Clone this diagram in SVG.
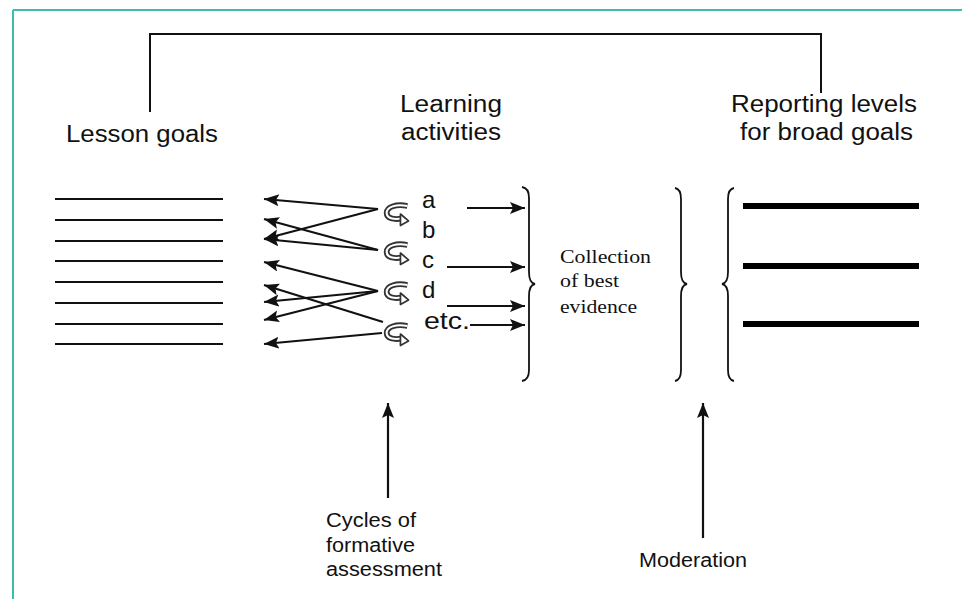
<svg xmlns="http://www.w3.org/2000/svg" width="962" height="599" viewBox="0 0 962 599">
<style>
.ln{stroke:#111;stroke-width:2;fill:none}
.ar{stroke:#111;stroke-width:2.2;fill:none;marker-end:url(#ah)}
.goal{stroke:#111;stroke-width:2}
.lvl{stroke:#000;stroke-width:6}
.br{stroke:#111;stroke-width:1.8;fill:none}
.sans{font-family:"Liberation Sans",Arial,sans-serif;fill:#111}
.serif{font-family:"Liberation Serif","Times New Roman",serif;fill:#111}
</style>
<defs>
<marker id="ah" markerUnits="userSpaceOnUse" markerWidth="16" markerHeight="14" refX="15" refY="6" orient="auto">
<path d="M0,0 L15,6 L0,12 L3,6 Z" fill="#111"/>
</marker>
<g id="curl">
<path d="M9,-7 C-1,-9 -9,-6 -9,-1 C-9,4 -3,5 4,4" fill="none" stroke="#333" stroke-width="5"/>
<path d="M9,-7 C-1,-9 -9,-6 -9,-1 C-9,4 -3,5 4,4" fill="none" stroke="#fff" stroke-width="1.8"/>
<path d="M3,0 L10,6 L3,10 Z" fill="#fff" stroke="#333" stroke-width="1.5" stroke-linejoin="round"/>
</g>
</defs>
<rect width="962" height="599" fill="#fff"/>
<g id="frame">
<line x1="13" y1="10" x2="962" y2="10" stroke="#3dbdb0" stroke-width="2"/>
<line x1="13" y1="10" x2="13" y2="599" stroke="#3dbdb0" stroke-width="2"/>
</g>
<g id="lesson-goals">
<text class="sans" x="66" y="142" font-size="23" textLength="152" lengthAdjust="spacingAndGlyphs">Lesson goals</text>
<line class="goal" x1="55" y1="199" x2="223" y2="199"/>
<line class="goal" x1="55" y1="220" x2="223" y2="220"/>
<line class="goal" x1="55" y1="241" x2="223" y2="241"/>
<line class="goal" x1="55" y1="261" x2="223" y2="261"/>
<line class="goal" x1="55" y1="282" x2="223" y2="282"/>
<line class="goal" x1="55" y1="303" x2="223" y2="303"/>
<line class="goal" x1="55" y1="324" x2="223" y2="324"/>
<line class="goal" x1="55" y1="344" x2="223" y2="344"/>
</g>
<g id="learning-activities">
<text class="sans" x="400" y="112" font-size="23" textLength="102" lengthAdjust="spacingAndGlyphs">Learning</text>
<text class="sans" x="401" y="140" font-size="23" textLength="100" lengthAdjust="spacingAndGlyphs">activities</text>
<text class="sans" x="422" y="208" font-size="24">a</text>
<text class="sans" x="422" y="238" font-size="24">b</text>
<text class="sans" x="422" y="268" font-size="24">c</text>
<text class="sans" x="422" y="298" font-size="24">d</text>
<text class="sans" x="424" y="329" font-size="24" textLength="46" lengthAdjust="spacingAndGlyphs">etc.</text>
<use href="#curl" transform="translate(397,214) scale(1.15)"/>
<use href="#curl" transform="translate(397,253) scale(1.15)"/>
<use href="#curl" transform="translate(397,293) scale(1.15)"/>
<use href="#curl" transform="translate(397,334) scale(1.15)"/>
</g>
<g id="reporting-levels">
<text class="sans" x="731" y="112" font-size="23" textLength="186" lengthAdjust="spacingAndGlyphs">Reporting levels</text>
<text class="sans" x="740" y="140" font-size="23" textLength="173" lengthAdjust="spacingAndGlyphs">for broad goals</text>
<line class="lvl" x1="743" y1="206" x2="919" y2="206"/>
<line class="lvl" x1="743" y1="266" x2="919" y2="266"/>
<line class="lvl" x1="743" y1="324" x2="919" y2="324"/>
</g>
<g id="collection">
<text class="serif" x="560" y="263" font-size="19" textLength="91" lengthAdjust="spacingAndGlyphs">Collection</text>
<text class="serif" x="560" y="287" font-size="19" textLength="59" lengthAdjust="spacingAndGlyphs">of best</text>
<text class="serif" x="560" y="313" font-size="19" textLength="77" lengthAdjust="spacingAndGlyphs">evidence</text>
</g>
<g id="braces">
<path class="br" d="M522,187 Q529,188 529,198 L529,272 Q529,283 535,284 Q529,285 529,296 L529,370 Q529,380 522,381"/>
<path class="br" d="M675,188 Q681,189 681,199 L681,272 Q681,283 687,284 Q681,285 681,296 L681,370 Q681,380 675,381"/>
<path class="br" d="M734,188 Q728,189 728,199 L728,272 Q728,283 722,284 Q728,285 728,296 L728,370 Q728,380 734,381"/>
</g>
<g id="cycles">
<text class="sans" x="326" y="527" font-size="20" textLength="90" lengthAdjust="spacingAndGlyphs">Cycles of</text>
<text class="sans" x="326" y="552" font-size="20" textLength="89" lengthAdjust="spacingAndGlyphs">formative</text>
<text class="sans" x="326" y="576" font-size="20" textLength="116" lengthAdjust="spacingAndGlyphs">assessment</text>
</g>
<g id="moderation">
<text class="sans" x="639" y="567" font-size="20" textLength="108" lengthAdjust="spacingAndGlyphs">Moderation</text>
</g>
<g id="connectors">
<polyline class="ln" points="150,112 150,34 821,34 821,93"/>
<line class="ar" x1="378" y1="209" x2="264" y2="199"/>
<line class="ar" x1="378" y1="209" x2="264" y2="239"/>
<line class="ar" x1="378" y1="250" x2="264" y2="219"/>
<line class="ar" x1="378" y1="250" x2="264" y2="239"/>
<line class="ar" x1="378" y1="291" x2="264" y2="262"/>
<line class="ar" x1="378" y1="291" x2="264" y2="302"/>
<line class="ar" x1="378" y1="291" x2="264" y2="320"/>
<line class="ar" x1="383" y1="322" x2="264" y2="285"/>
<line class="ar" x1="382" y1="333" x2="264" y2="344"/>
<line class="ar" x1="467" y1="208" x2="525" y2="208"/>
<line class="ar" x1="447" y1="267" x2="525" y2="267"/>
<line class="ar" x1="447" y1="306" x2="525" y2="306"/>
<line class="ar" x1="470" y1="325" x2="525" y2="325"/>
<line class="ar" x1="388" y1="498" x2="388" y2="403"/>
<line class="ar" x1="703" y1="538" x2="703" y2="403"/>
</g>
</svg>
